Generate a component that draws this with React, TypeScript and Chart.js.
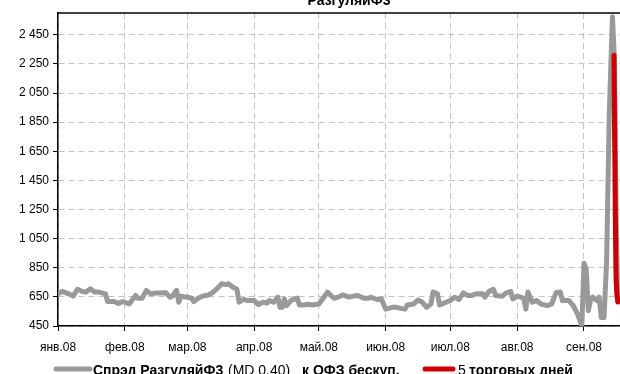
import React, { useEffect, useRef } from "react";
import { Chart, registerables } from "chart.js";

Chart.register(...registerables);

// Days since 01.01.2008
const spreadDays = [
  0, 2, 5, 7, 9, 11, 13, 15, 17, 19,
  22, 23, 26, 28, 30, 32, 33, 36, 37, 39,
  41, 43, 45, 47, 50, 52, 53, 55, 56, 57,
  60, 62, 63, 65, 67, 70, 72, 74, 76, 78,
  79, 81, 83, 84, 86, 88, 91, 93, 95, 97,
  98, 100, 102, 103, 104, 105, 106, 108, 111, 112,
  114, 116, 118, 121, 123, 125, 128, 130, 132, 135,
  137, 139, 142, 144, 145, 148, 150, 152, 155, 157,
  159, 161, 162, 165, 167, 169, 171, 173, 174, 176,
  177, 180, 182, 184, 186, 188, 190, 192, 194, 197,
  198, 200, 202, 203, 206, 208, 210, 211, 213, 216,
  217, 218, 220, 222, 224, 227, 229, 231, 233, 234,
  237, 239, 241, 243, 244, 245, 246, 247, 248, 250,
  251, 252, 253.3, 254.5, 255.7, 257.2, 258.2, 258.9, 259.6,
];

const spreadValues = [
  671, 688, 671, 655, 702, 688, 683, 706, 683, 683,
  671, 618, 618, 604, 618, 608, 601, 660, 641, 641,
  695, 671, 676, 676, 678, 648, 655, 695, 613, 655,
  648, 641, 618, 641, 655, 664, 683, 711, 741, 734,
  741, 718, 702, 613, 632, 625, 625, 597, 613, 608,
  625, 613, 648, 578, 578, 636, 590, 625, 641, 594,
  594, 599, 594, 601, 641, 683, 641, 648, 664, 648,
  655, 660, 641, 641, 648, 632, 636, 566, 578, 578,
  571, 566, 594, 601, 629, 613, 578, 601, 683, 671,
  594, 613, 625, 648, 632, 678, 660, 660, 671, 671,
  648, 688, 702, 660, 655, 678, 688, 636, 655, 641,
  566, 683, 613, 625, 601, 590, 601, 678, 683, 625,
  625, 590, 532, 455, 881, 846, 555, 625, 648, 625,
  648, 508, 508, 900, 1900, 2574, 2250, 1200, 620,
];

const lastDays = [257.9, 258.3, 258.8, 259.2, 259.7];
const lastValues = [2310, 1600, 830, 680, 615];

const monthTickDays = [0, 31, 60, 91, 121, 152, 182, 213, 244];
const monthLabels = ["янв.08", "фев.08", "мар.08", "апр.08", "май.08", "июн.08", "июл.08", "авг.08", "сен.08"];
const yTickValues = [450, 650, 850, 1050, 1250, 1450, 1650, 1850, 2050, 2250, 2450];

const titleText = "РазгуляйФ3";
const seriesGrayName = "Спрэд РазгуляйФ3 (MD 0.40) к ОФЗ бескуп.";
const seriesRedName = "5 торговых дней";
const legendGrayParts = [
  { text: "Спрэд РазгуляйФ3", bold: true, x: 93 },
  { text: "(MD 0.40)", bold: false, x: 228 },
  { text: "к ОФЗ бескуп.", bold: true, x: 302 },
];
const legendRedParts = [
  { text: "5", bold: false, x: 458 },
  { text: "торговых дней", bold: true, x: 469 },
];

const GRAY = "#999999";
const RED = "#cc0000";
const FONT = '"Liberation Sans", Arial, sans-serif';

const fmt = (v: number) => String(v).replace(/\B(?=(\d{3})+(?!\d))/g, " ");

const decorPlugin = {
  id: "decor",
  afterDraw(chart: any) {
    const { ctx, chartArea } = chart;
    ctx.save();
    // top border of plot area
    ctx.strokeStyle = "#000";
    ctx.lineWidth = 1.5;
    ctx.beginPath();
    ctx.moveTo(chartArea.left, chartArea.top);
    ctx.lineTo(chartArea.right, chartArea.top);
    ctx.stroke();
    // title (partially cut off)
    ctx.fillStyle = "#000";
    ctx.font = `bold 14px ${FONT}`;
    ctx.textAlign = "center";
    ctx.textBaseline = "alphabetic";
    ctx.fillText(titleText, 349, 5);
    // legend
    const ly = 369;
    ctx.lineCap = "round";
    ctx.lineWidth = 5;
    ctx.strokeStyle = GRAY;
    ctx.beginPath();
    ctx.moveTo(56, ly);
    ctx.lineTo(90, ly);
    ctx.stroke();
    ctx.strokeStyle = RED;
    ctx.beginPath();
    ctx.moveTo(425, ly);
    ctx.lineTo(453, ly);
    ctx.stroke();
    ctx.textAlign = "left";
    const tb = 375;
    for (const p of [...legendGrayParts, ...legendRedParts]) {
      ctx.font = `${p.bold ? "bold " : ""}14px ${FONT}`;
      ctx.fillText(p.text, p.x, tb);
    }
    ctx.restore();
  },
};

export default function App() {
  const ref = useRef<HTMLCanvasElement | null>(null);
  useEffect(() => {
    if (!ref.current) return;
    const chart = new Chart(ref.current, {
      type: "line",
      data: {
        datasets: [
          {
            label: seriesRedName,
            data: lastDays.map((d, i) => ({ x: d, y: lastValues[i] })),
            borderColor: RED,
            backgroundColor: RED,
            borderWidth: 5,
            pointRadius: 0,
            borderJoinStyle: "round",
            borderCapStyle: "round",
            tension: 0.3,
            order: 0,
          },
          {
            label: seriesGrayName,
            data: spreadDays.map((d, i) => ({ x: d, y: spreadValues[i] })),
            borderColor: GRAY,
            backgroundColor: GRAY,
            borderWidth: 5,
            pointRadius: 0,
            borderJoinStyle: "round",
            borderCapStyle: "round",
            tension: 0,
            order: 1,
          },
        ],
      },
      options: {
        animation: false,
        responsive: false,
        layout: { padding: { top: 13, left: 0, right: 0, bottom: 0 } },
        plugins: {
          legend: { display: false },
          title: { display: false },
          tooltip: { enabled: false },
        },
        scales: {
          x: {
            type: "linear",
            min: 0,
            max: 260.7,
            afterBuildTicks: (s: any) => {
              s.ticks = monthTickDays.map((v) => ({ value: v }));
            },
            afterFit: (s: any) => {
              s.height = 48;
            },
            ticks: {
              autoSkip: false,
              maxRotation: 0,
              padding: 9,
              color: "#000",
              font: { family: FONT, size: 12 },
              callback: (v: any) => {
                const i = monthTickDays.indexOf(Number(v));
                return i >= 0 ? monthLabels[i] : "";
              },
            },
            grid: { color: "#c4c4c4", lineWidth: 1, tickColor: "#000", tickLength: 5, tickBorderDash: [] },
            border: { display: true, color: "#000", width: 1.5, dash: [6, 4] },
          },
          y: {
            type: "linear",
            min: 450,
            max: 2600,
            afterBuildTicks: (s: any) => {
              s.ticks = yTickValues.map((v) => ({ value: v }));
            },
            afterFit: (s: any) => {
              s.width = 58;
            },
            ticks: {
              padding: 4,
              color: "#000",
              font: { family: FONT, size: 12 },
              callback: (v: any) => fmt(Number(v)),
            },
            grid: { color: "#c4c4c4", lineWidth: 1, tickColor: "#000", tickLength: 5, tickBorderDash: [] },
            border: { display: true, color: "#000", width: 1.5, dash: [6, 4] },
          },
        },
      },
      plugins: [decorPlugin],
    } as any);
    return () => chart.destroy();
  }, []);
  return (
    <div style={{ position: "absolute", left: 0, top: 0, width: 620, height: 374, background: "#fff" }}>
      <canvas ref={ref} width={620} height={374} />
    </div>
  );
}
